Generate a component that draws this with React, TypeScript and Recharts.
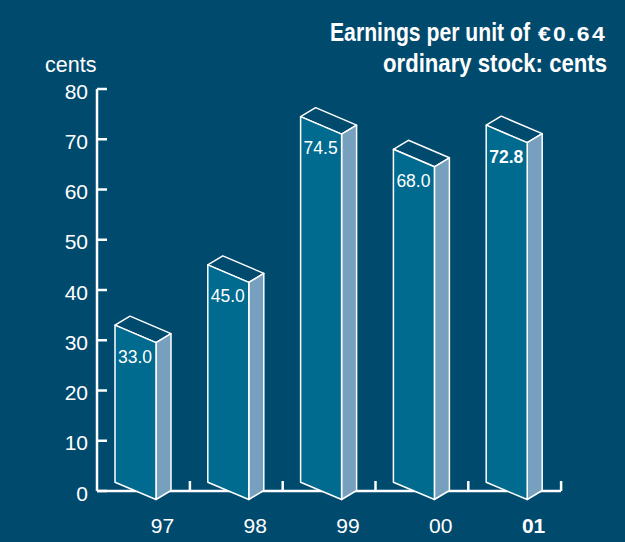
import { Bar, BarChart, XAxis, YAxis } from "recharts";

const years = ["97", "98", "99", "00", "01"];
const earnings = [33.0, 45.0, 74.5, 68.0, 72.8];
const yTicks = [0, 10, 20, 30, 40, 50, 60, 70, 80];
const boldYear = "01";

const data = years.map((year, i) => ({ year, eps: earnings[i] }));

const NAVY = "#004a6e";
const FRONT = "#006a8f";
const SIDE = "#76a0be";
const FONT = "'Liberation Sans', Arial, sans-serif";

// front face width and depth offset of the 3d box
const FW = 41;
const DX = 15;
const DY = 9;

function Box3D(props: any) {
  const { x, y, height, payload } = props;
  const yb = y + height;
  const x1 = x + FW;
  const x2 = x + FW + DX;
  const front = `${x},${y} ${x1},${y + 17.5} ${x1},${yb + 8.5} ${x},${yb - 8.7}`;
  const top = `${x},${y} ${x + DX},${y - DY} ${x2},${y + 8.5} ${x1},${y + 17.5}`;
  const side = `${x1},${y + 17.5} ${x2},${y + 8.5} ${x2},${yb - 0.5} ${x1},${yb + 8.5}`;
  const bold = payload.year === boldYear;
  return (
    <g>
      <polygon points={top} fill={NAVY} stroke="#fff" strokeWidth={1.5} strokeLinejoin="round" />
      <polygon points={side} fill={SIDE} stroke="#fff" strokeWidth={1.5} strokeLinejoin="round" />
      <polygon points={front} fill={FRONT} stroke="#fff" strokeWidth={1.5} strokeLinejoin="round" />
      <text x={x + 3} y={y + 37.5} fill="#fff" fontSize={17.5} fontFamily={FONT} fontWeight={bold ? 700 : 400}>
        {payload.eps.toFixed(1)}
      </text>
    </g>
  );
}

function YTick(props: any) {
  const { x, y, payload } = props;
  return (
    <g>
      <line x1={x} x2={x + 10} y1={y} y2={y} stroke="#fff" strokeWidth={2.5} />
      <text x={x - 9} y={y + 9.5} textAnchor="end" fill="#fff" fontSize={21} fontFamily={FONT}>
        {payload.value}
      </text>
    </g>
  );
}

function XTick(props: any) {
  const { x, y, payload } = props;
  const bold = payload.value === boldYear;
  return (
    <g>
      <line x1={x + 46.5} x2={x + 46.5} y1={y} y2={y - 10} stroke="#fff" strokeWidth={2.5} />
      <text x={x + 19} y={y + 42} textAnchor="middle" fill="#fff" fontSize={21} fontFamily={FONT} fontWeight={bold ? 700 : 400}>
        {payload.value}
      </text>
    </g>
  );
}

export default function App() {
  return (
    <div style={{ position: "absolute", left: 0, top: 0, width: 625, height: 542, background: NAVY }}>
      <BarChart width={625} height={542} data={data} margin={{ top: 89, right: 64, left: 37, bottom: 11 }}>
        <XAxis
          dataKey="year"
          height={40}
          tickSize={0}
          tickMargin={0}
          tickLine={false}
          axisLine={{ stroke: "#fff", strokeWidth: 2.5 }}
          tick={<XTick />}
          interval={0}
        />
        <YAxis
          width={60}
          domain={[0, 80]}
          ticks={yTicks}
          tickSize={0}
          tickMargin={0}
          tickLine={false}
          axisLine={{ stroke: "#fff", strokeWidth: 2.5 }}
          tick={<YTick />}
          interval={0}
        />
        <Bar dataKey="eps" barSize={56} shape={<Box3D />} isAnimationActive={false} zIndex={600} />
      </BarChart>
      <svg width={625} height={542} style={{ position: "absolute", left: 0, top: 0, pointerEvents: "none" }}>
        <text x={45} y={71.5} fill="#fff" fontSize={21.5} fontFamily={FONT}>
          cents
        </text>
        <text x={330} y={41} fill="#fff" fontSize={25} fontFamily={FONT} fontWeight={700} textLength={200} lengthAdjust="spacingAndGlyphs">
          Earnings per unit of
        </text>
        <text x={538} y={41} fill="#fff" fontSize={20} fontFamily={FONT} fontWeight={700} letterSpacing={2} textLength={69} lengthAdjust="spacingAndGlyphs">
          €0.64
        </text>
        <text x={383} y={71.5} fill="#fff" fontSize={25} fontFamily={FONT} fontWeight={700} textLength={224} lengthAdjust="spacingAndGlyphs">
          ordinary stock: cents
        </text>
      </svg>
    </div>
  );
}
